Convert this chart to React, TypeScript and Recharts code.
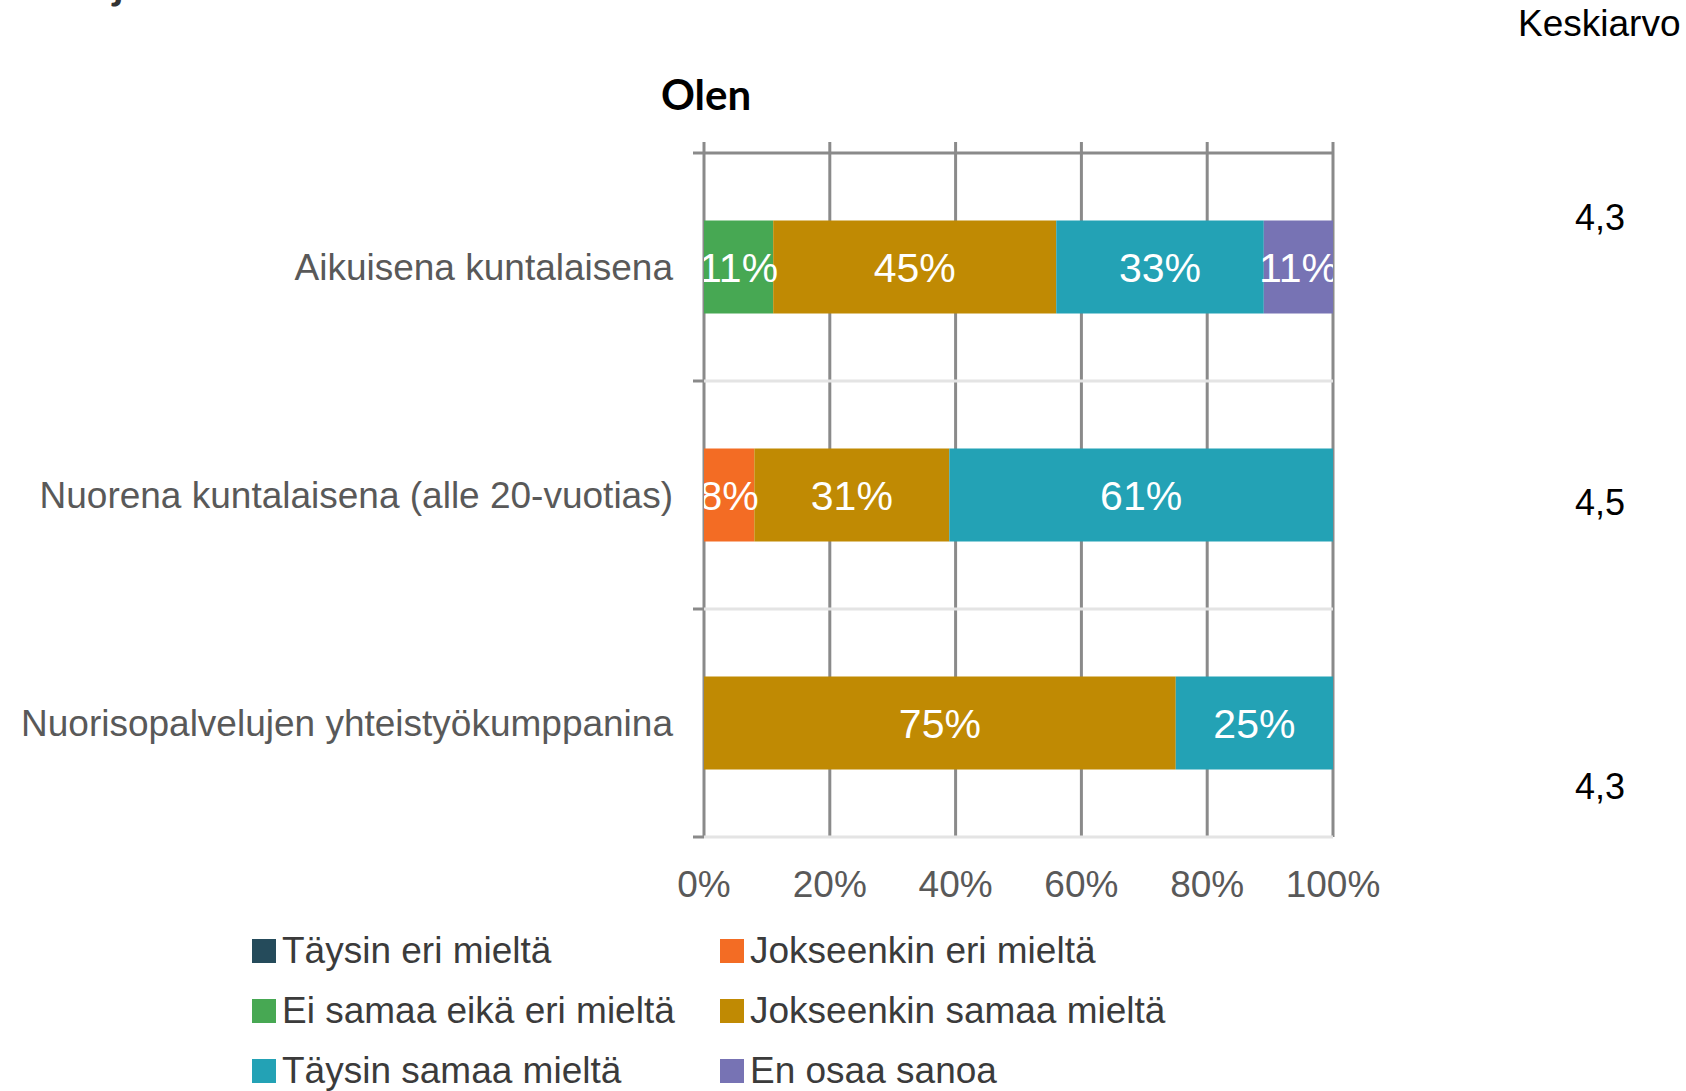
import { Bar, BarChart, CartesianGrid, LabelList, Legend, ReferenceLine, XAxis, YAxis } from "recharts";

const categories = [
  "Aikuisena kuntalaisena",
  "Nuorena kuntalaisena (alle 20-vuotias)",
  "Nuorisopalvelujen yhteistyökumppanina",
];

const seriesNames = [
  "Täysin eri mieltä",
  "Jokseenkin eri mieltä",
  "Ei samaa eikä eri mieltä",
  "Jokseenkin samaa mieltä",
  "Täysin samaa mieltä",
  "En osaa sanoa",
];

const taysinEri = [0, 0, 0];
const jokseenkinEri = [0, 8, 0];
const eiSamaaEikaEri = [11, 0, 0];
const jokseenkinSamaa = [45, 31, 75];
const taysinSamaa = [33, 61, 25];
const enOsaa = [11, 0, 0];

const means = ["4,3", "4,5", "4,3"];
const xTicks = [0, 20, 40, 60, 80, 100];

const seriesValues = [taysinEri, jokseenkinEri, eiSamaaEikaEri, jokseenkinSamaa, taysinSamaa, enOsaa];
const seriesColors = ["#254b5b", "#f36c24", "#47a853", "#c08a03", "#23a2b5", "#7773b4"];

const data = categories.map((name, i) => {
  const row: Record<string, string | number> = { name };
  seriesNames.forEach((s, j) => {
    row[s] = seriesValues[j][i];
  });
  return row;
});

// band edges: top of every category band plus the bottom of the last one
const bandEdges: { cat: string; pos: "start" | "end" }[] = [
  ...categories.map((cat) => ({ cat, pos: "start" as const })),
  { cat: categories[categories.length - 1], pos: "end" },
];

const W = 1686;
const H = 1091;
const CAT_W = 700;
const margin = { top: 142, right: 353, bottom: 194, left: 4 };
const PLOT_LEFT = margin.left + CAT_W;
const PLOT_W = W - margin.right - PLOT_LEFT;
const LEFT_TICK = -1.75; // tick mark length, in % of the value axis

const FONT = "'Liberation Sans', Arial, sans-serif";
const DARK = "#8a8a8a";

// axis that only shows tick marks, no labels
const noLabel = () => <g />;

const makeLabel = (key: number) => (props: any) => {
  const { x, y, width, height, value, index } = props;
  if (!value) return null;
  const id = `lbl-clip-${key}-${index}`;
  return (
    <g>
      <defs>
        <clipPath id={id}>
          <rect x={PLOT_LEFT} y={y - 40} width={PLOT_W} height={height + 80} />
        </clipPath>
      </defs>
      <text
        x={x + width / 2}
        y={y + height / 2}
        dy="0.355em"
        textAnchor="middle"
        fill="#fff"
        fontSize={41}
        fontFamily={FONT}
        clipPath={`url(#${id})`}
      >
        {`${value}%`}
      </text>
    </g>
  );
};

const LegendGrid = () => (
  <div
    style={{
      display: "grid",
      gridTemplateColumns: "468px 468px",
      gridAutoRows: "60px",
      fontFamily: FONT,
      fontSize: 37,
      color: "#3b3b3b",
    }}
  >
    {seriesNames.map((s, i) => (
      <div key={s} style={{ display: "flex", alignItems: "center", whiteSpace: "nowrap" }}>
        <span style={{ width: 24, height: 24, background: seriesColors[i], marginRight: 6, flexShrink: 0 }} />
        {s}
      </div>
    ))}
  </div>
);

export default function App() {
  return (
    <div style={{ position: "absolute", left: 0, top: 0, width: W, height: H, background: "#fff" }}>
      <BarChart width={W} height={H} data={data} layout="vertical" margin={margin} barCategoryGap="29.6%">
        <CartesianGrid horizontal={false} xAxisId="bottom" yAxisId="cat" stroke={DARK} strokeWidth={3} />
        <YAxis
          yAxisId="cat"
          type="category"
          dataKey="name"
          width={CAT_W}
          axisLine={false}
          tickLine={false}
          tickSize={0}
          tickMargin={31}
          tick={{ fill: "#595959", fontSize: 37, fontFamily: FONT }}
        />
        <XAxis
          xAxisId="top"
          orientation="top"
          type="number"
          domain={[0, 100]}
          ticks={xTicks}
          interval={0}
          allowDataOverflow
          height={11}
          tick={noLabel}
          tickSize={11}
          axisLine={{ stroke: DARK, strokeWidth: 3 }}
          tickLine={{ stroke: DARK, strokeWidth: 3 }}
        />
        <XAxis
          xAxisId="bottom"
          orientation="bottom"
          type="number"
          domain={[0, 100]}
          ticks={xTicks}
          interval={0}
          allowDataOverflow
          height={60}
          axisLine={false}
          tickLine={false}
          tickSize={0}
          tickMargin={34}
          tickFormatter={(v: number) => `${v}%`}
          tick={{ fill: "#595959", fontSize: 37, fontFamily: FONT }}
        />
        {bandEdges.slice(1).map((e, i) => (
          <ReferenceLine
            key={`grid-${i}`}
            xAxisId="bottom"
            yAxisId="cat"
            y={e.cat}
            position={e.pos}
            stroke="#e4e4e4"
            strokeWidth={3}
          />
        ))}
        {bandEdges.map((e, i) => (
          <ReferenceLine
            key={`tick-${i}`}
            xAxisId="bottom"
            yAxisId="cat"
            segment={[
              { x: LEFT_TICK, y: e.cat },
              { x: 0, y: e.cat },
            ]}
            position={e.pos}
            ifOverflow="visible"
            stroke={DARK}
            strokeWidth={3}
          />
        ))}
        {seriesNames.map((s, i) => (
          <Bar
            key={s}
            dataKey={s}
            stackId="a"
            xAxisId="bottom"
            yAxisId="cat"
            fill={seriesColors[i]}
            isAnimationActive={false}
          >
            <LabelList dataKey={s} content={makeLabel(i)} />
          </Bar>
        ))}
        <Legend
          layout="vertical"
          align="center"
          verticalAlign="middle"
          wrapperStyle={{ left: 252, top: 921, width: 940, height: 180 }}
          content={<LegendGrid />}
        />
      </BarChart>
      <svg width={W} height={H} style={{ position: "absolute", left: 0, top: 0, pointerEvents: "none" }}>
        <text x={113} y={-1} fontFamily="Lato, sans-serif" fontWeight={700} fontSize={42} fill="#333">
          j
        </text>
        <text x={706} y={110} textAnchor="middle" fontFamily="Lato, sans-serif" fontWeight={700} fontSize={42} fill="#000">
          Olen
        </text>
        <text x={1518} y={36} fontFamily={FONT} fontSize={37} fill="#000">
          Keskiarvo
        </text>
        {means.map((m, i) => (
          <text key={i} x={1600} y={230 + i * 284.5} textAnchor="middle" fontFamily={FONT} fontSize={36} fill="#000">
            {m}
          </text>
        ))}
      </svg>
    </div>
  );
}
